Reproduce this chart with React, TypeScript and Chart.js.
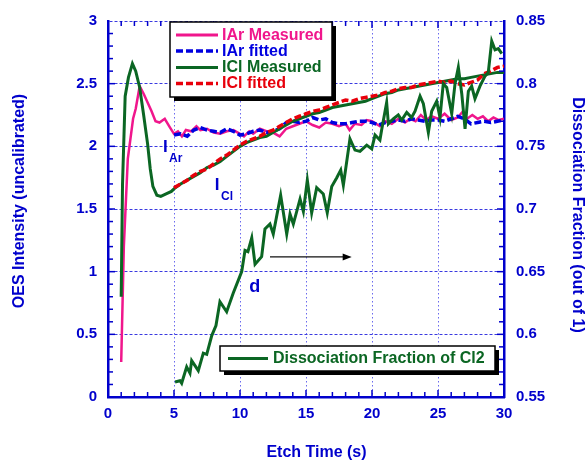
import React, { useEffect, useRef } from "react";
import { Chart, registerables } from "chart.js";
Chart.register(...registerables);

// ---------- data ----------
const arTime = [1.0,1.2,1.5,1.9,2.1,2.4,2.7,3.0,3.3,3.6,3.9,4.3,4.7,5.0,5.3,5.6,5.9,6.3,6.7,7.0,7.5,8.0,8.5,9.0,9.5,10.0,10.3,10.7,11.0,11.5,12.0,12.5,13.0,13.5,14.0,14.5,15.0,15.5,16.0,16.5,17.0,17.5,18.0,18.3,18.7,19.2,19.6,20.0,20.6,21.0,21.5,22.0,22.5,22.9,23.3,23.7,24.1,24.5,25.0,25.5,25.7,26.0,26.5,26.9,27.2,27.6,28.0,28.4,28.8,29.2,29.6,30.0];
const arMeasured = [0.28,1.2,1.9,2.22,2.3,2.48,2.42,2.35,2.28,2.2,2.19,2.22,2.15,2.1,2.12,2.08,2.13,2.12,2.16,2.13,2.14,2.11,2.1,2.12,2.13,2.1,2.08,2.12,2.1,2.14,2.12,2.11,2.08,2.14,2.16,2.18,2.2,2.17,2.15,2.19,2.18,2.16,2.18,2.13,2.18,2.17,2.21,2.2,2.16,2.2,2.18,2.22,2.19,2.22,2.2,2.25,2.21,2.24,2.22,2.26,2.24,2.21,2.23,2.28,2.22,2.25,2.22,2.24,2.2,2.23,2.21,2.22];

const fitTime = [5,5.5,6,6.5,7,7.5,8,8.5,9,9.5,10,10.5,11,11.5,12,12.5,13,13.5,14,14.5,15,15.5,16,16.5,17,17.5,18,18.5,19,19.5,20,20.5,21,21.5,22,22.5,23,23.5,24,24.5,25,25.5,26,26.5,27,27.5,28,28.5,29,29.5,30];
const arFitted = [2.09,2.1,2.08,2.13,2.15,2.13,2.12,2.11,2.14,2.12,2.09,2.1,2.12,2.13,2.11,2.12,2.14,2.19,2.2,2.19,2.2,2.23,2.21,2.22,2.19,2.18,2.18,2.19,2.2,2.2,2.19,2.17,2.19,2.2,2.21,2.2,2.22,2.21,2.2,2.21,2.21,2.2,2.22,2.24,2.22,2.18,2.19,2.2,2.19,2.2,2.21];
const clFitted = [1.67,1.7,1.73,1.77,1.8,1.82,1.86,1.9,1.93,1.97,2.01,2.04,2.06,2.08,2.11,2.13,2.16,2.19,2.22,2.24,2.26,2.28,2.29,2.31,2.33,2.35,2.37,2.36,2.38,2.39,2.4,2.41,2.43,2.44,2.46,2.47,2.47,2.49,2.5,2.51,2.52,2.51,2.52,2.5,2.49,2.51,2.53,2.58,2.6,2.63,2.64];

const clTime = [1.0,1.1,1.3,1.55,1.85,2.1,2.4,2.7,3.0,3.2,3.4,3.7,4.0,4.4,4.8,5.1,5.5,6,6.5,7,7.5,8,8.5,9,9.5,10,10.5,11,11.5,12,12.5,13,13.5,14,14.5,15,15.5,16,16.5,17,17.5,18,18.5,19,19.5,20,20.5,21,21.5,22,22.5,23,23.5,24,24.5,25,25.5,26,26.5,27,27.5,28,28.5,29,29.5,30];
const clMeasured = [0.8,1.7,2.4,2.55,2.66,2.6,2.47,2.25,2.02,1.82,1.68,1.61,1.6,1.62,1.64,1.67,1.7,1.73,1.76,1.79,1.83,1.85,1.88,1.92,1.96,2.0,2.03,2.05,2.07,2.08,2.11,2.14,2.17,2.2,2.22,2.24,2.26,2.27,2.29,2.31,2.32,2.33,2.34,2.35,2.36,2.38,2.4,2.42,2.43,2.45,2.46,2.47,2.48,2.49,2.5,2.51,2.52,2.53,2.54,2.54,2.55,2.56,2.57,2.58,2.59,2.59];

const dTime = [5.08,5.45,5.58,5.96,6.21,6.34,6.84,7.22,7.48,7.86,8.18,8.48,8.99,9.49,10.13,10.38,10.6,10.89,11.14,11.64,11.89,12.27,12.52,13.08,13.54,13.79,14.04,14.55,14.8,15.1,15.43,15.81,16.31,16.61,16.95,17.33,17.63,17.83,18.33,18.71,19.09,19.6,19.98,20.23,20.6,20.73,21.11,21.24,21.61,21.99,22.25,22.63,23.0,23.26,23.64,23.89,24.27,24.52,24.9,25.15,25.4,25.66,26.04,26.29,26.54,26.8,27.05,27.3,27.55,27.8,28.18,28.56,28.81,29.07,29.32,29.57,29.83];
const dFraction = [0.562,0.563,0.561,0.574,0.569,0.579,0.571,0.585,0.584,0.599,0.607,0.626,0.618,0.633,0.65,0.667,0.666,0.677,0.656,0.662,0.684,0.688,0.68,0.711,0.68,0.696,0.688,0.708,0.698,0.723,0.697,0.717,0.712,0.697,0.718,0.725,0.731,0.719,0.756,0.747,0.746,0.751,0.748,0.759,0.755,0.763,0.785,0.768,0.772,0.775,0.771,0.777,0.773,0.778,0.79,0.784,0.761,0.778,0.786,0.773,0.8,0.797,0.776,0.8,0.813,0.792,0.764,0.794,0.798,0.788,0.798,0.806,0.809,0.834,0.827,0.828,0.824];

const legendLabels = ["IAr Measured", "IAr fitted", "ICl Measured", "ICl fitted"];
const dLegendLabel = "Dissociation Fraction of Cl2";
const xTitle = "Etch Time (s)";
const yTitle = "OES Intensity (uncalibrated)";
const y1Title = "Dissociation Fraction (out of 1)";

// ---------- styles ----------
const FONT = 'Arial, "Liberation Sans", sans-serif';
const AXIS = "#0000cc";
const PINK = "#f0168c";
const BLUE = "#0000e0";
const GREEN = "#0b6623";
const RED = "#e8000b";
const HGRID = "#3a3ae0";
const VGRID = "#6a6aee";

const pts = (xs: number[], ys: number[]) => xs.map((x, i) => ({ x, y: ys[i] }));
const fmt = (v: any) => String(Number(Number(v).toFixed(2)));

const overlayPlugin = {
  id: "overlay",
  afterDatasetsDraw(chart: any) {
    const { ctx, chartArea: a, scales } = chart;
    const xs = scales.x, ys = scales.y, y1 = scales.y1;
    ctx.save();
    // inward ticks
    ctx.strokeStyle = AXIS;
    ctx.lineWidth = 1.5;
    const seg = (x1: number, yA: number, x2: number, yB: number) => {
      ctx.beginPath(); ctx.moveTo(x1, yA); ctx.lineTo(x2, yB); ctx.stroke();
    };
    for (let i = 1; i < 30; i++) {
      const px = xs.getPixelForValue(i);
      const len = i % 5 === 0 ? 7 : 5;
      seg(px, a.bottom, px, a.bottom - len);
      seg(px, a.top, px, a.top + len);
    }
    for (let i = 1; i < 30; i++) {
      const py = ys.getPixelForValue(i / 10);
      const len = i % 5 === 0 ? 7 : 5;
      seg(a.left, py, a.left + len, py);
    }
    for (let i = 1; i < 30; i++) {
      const py = y1.getPixelForValue(0.55 + i / 100);
      const len = i % 5 === 0 ? 7 : 5;
      seg(a.right, py, a.right - len, py);
    }

    // annotations
    ctx.fillStyle = AXIS;
    ctx.textBaseline = "alphabetic";
    ctx.textAlign = "center";
    ctx.font = `bold 17px ${FONT}`;
    ctx.fillText("I", xs.getPixelForValue(4.34), ys.getPixelForValue(1.955));
    ctx.fillText("I", xs.getPixelForValue(8.26), ys.getPixelForValue(1.653));
    ctx.textAlign = "left";
    ctx.font = `bold 12px ${FONT}`;
    ctx.fillText("Ar", xs.getPixelForValue(4.62), ys.getPixelForValue(1.874));
    ctx.fillText("Cl", xs.getPixelForValue(8.56), ys.getPixelForValue(1.574));
    ctx.font = `bold 18px ${FONT}`;
    ctx.fillText("d", xs.getPixelForValue(10.7), ys.getPixelForValue(0.837));

    // arrow
    const ay = ys.getPixelForValue(1.118);
    const ax0 = xs.getPixelForValue(12.27), ax1 = xs.getPixelForValue(18.46);
    ctx.strokeStyle = "#111";
    ctx.lineWidth = 1.2;
    seg(ax0, ay, ax1 - 6, ay);
    ctx.fillStyle = "#000";
    ctx.beginPath();
    ctx.moveTo(ax1, ay); ctx.lineTo(ax1 - 9, ay - 3.5); ctx.lineTo(ax1 - 9, ay + 3.5); ctx.closePath(); ctx.fill();

    // legend boxes
    const box = (x: number, y: number, w: number, h: number) => {
      ctx.fillStyle = "#000"; ctx.fillRect(x + 4, y + 4, w, h);
      ctx.fillStyle = "#fff"; ctx.fillRect(x, y, w, h);
      ctx.strokeStyle = "#000"; ctx.lineWidth = 1.5; ctx.setLineDash([]); ctx.strokeRect(x, y, w, h);
    };
    box(170, 22, 162, 75);
    const rows = [35, 51, 67.5, 83.5];
    const cols = [PINK, BLUE, GREEN, RED];
    const dashes = [[], [7, 3], [], [7, 3]];
    ctx.font = `bold 16px ${FONT}`;
    ctx.textBaseline = "middle";
    ctx.textAlign = "left";
    rows.forEach((ry, i) => {
      ctx.strokeStyle = cols[i];
      ctx.lineWidth = dashes[i].length ? 3.5 : 3;
      ctx.setLineDash(dashes[i]);
      seg(176, ry, 218, ry);
      ctx.setLineDash([]);
      ctx.fillStyle = cols[i];
      ctx.fillText(legendLabels[i], 222, ry + 0.5);
    });
    box(220, 346, 275, 25);
    ctx.strokeStyle = GREEN; ctx.lineWidth = 3;
    seg(228, 358.5, 268, 358.5);
    ctx.fillStyle = GREEN;
    ctx.fillText(dLegendLabel, 273, 359);

    // axis titles
    ctx.fillStyle = AXIS;
    ctx.font = `bold 16px ${FONT}`;
    ctx.textAlign = "center";
    ctx.textBaseline = "middle";
    ctx.fillText(xTitle, 316.5, 453);
    ctx.save();
    ctx.translate(20, 201); ctx.rotate(-Math.PI / 2); ctx.fillText(yTitle, 0, 0);
    ctx.restore();
    ctx.save();
    ctx.translate(577, 215); ctx.rotate(Math.PI / 2); ctx.fillText(y1Title, 0, 0);
    ctx.restore();
    ctx.restore();
  },
};

export default function App() {
  const ref = useRef<HTMLCanvasElement | null>(null);
  useEffect(() => {
    document.body.style.margin = "0";
    if (!ref.current) return;
    const tickFont = { family: FONT, size: 15, weight: "bold" as const };
    const chart = new Chart(ref.current, {
      type: "line",
      data: {
        datasets: [
          { label: "d", data: pts(dTime, dFraction), yAxisID: "y1", borderColor: GREEN, borderWidth: 3, pointRadius: 0, tension: 0 },
          { label: legendLabels[3], data: pts(fitTime, clFitted), yAxisID: "y", borderColor: RED, borderWidth: 3.5, borderDash: [7, 3], pointRadius: 0, tension: 0 },
          { label: legendLabels[2], data: pts(clTime, clMeasured), yAxisID: "y", borderColor: GREEN, borderWidth: 3, pointRadius: 0, tension: 0 },
          { label: legendLabels[1], data: pts(fitTime, arFitted), yAxisID: "y", borderColor: BLUE, borderWidth: 3.5, borderDash: [7, 3], pointRadius: 0, tension: 0 },
          { label: legendLabels[0], data: pts(arTime, arMeasured), yAxisID: "y", borderColor: PINK, borderWidth: 2.5, pointRadius: 0, tension: 0 },
        ],
      },
      options: {
        responsive: false,
        animation: false,
        devicePixelRatio: 1,
        layout: { padding: { top: 16, left: 0, right: 0, bottom: 0 } },
        plugins: { legend: { display: false }, tooltip: { enabled: false } },
        scales: {
          x: {
            type: "linear", position: "bottom", min: 0, max: 30,
            afterFit: (s: any) => { s.height = 66; },
            ticks: { stepSize: 5, padding: 8, color: AXIS, font: tickFont, callback: fmt },
            grid: { drawTicks: false, lineWidth: 1, color: (c: any) => (c.tick && c.tick.value > 0 && c.tick.value < 30 ? VGRID : "rgba(0,0,0,0)") },
            border: { display: true, color: AXIS, width: 2.5, dash: [1.5, 2.5] },
          },
          y: {
            type: "linear", position: "left", min: 0, max: 3,
            afterFit: (s: any) => { s.width = 108; },
            ticks: { stepSize: 0.5, padding: 11, color: AXIS, font: tickFont, callback: fmt },
            grid: { drawTicks: false, lineWidth: 1, color: (c: any) => (c.tick && c.tick.value > 0 ? HGRID : "rgba(0,0,0,0)") },
            border: { display: true, color: AXIS, width: 2.5, dash: [3, 2] },
          },
          y1: {
            type: "linear", position: "right", min: 0.55, max: 0.85,
            afterFit: (s: any) => { s.width = 82; },
            ticks: { stepSize: 0.05, padding: 12, color: AXIS, font: tickFont, callback: fmt },
            grid: { display: false, drawTicks: false },
            border: { display: true, color: AXIS, width: 2.5 },
          },
        },
      },
      plugins: [overlayPlugin],
    } as any);
    return () => chart.destroy();
  }, []);
  return <canvas ref={ref} width={586} height={463} style={{ display: "block" }} />;
}
